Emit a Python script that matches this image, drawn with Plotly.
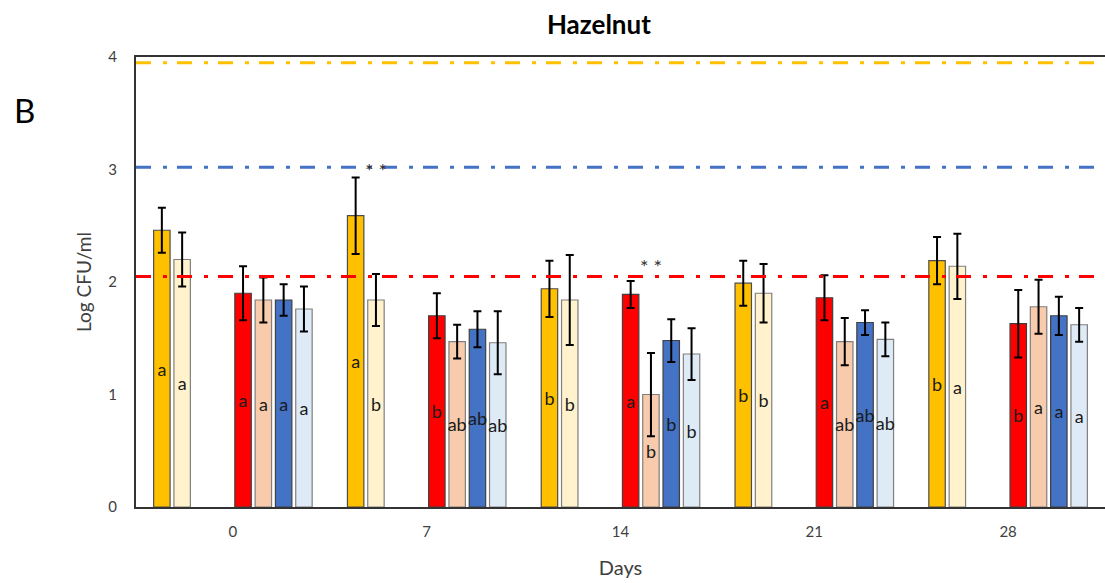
import plotly.graph_objects as go

# Sampling days (x categories)
days = ["0", "7", "14", "21", "28"]

# Mean counts (Log CFU/ml) per series
yellow_vals = [2.46, 2.59, 1.94, 1.99, 2.19]
lightyellow_vals = [2.20, 1.84, 1.84, 1.90, 2.14]
red_vals = [1.90, 1.70, 1.89, 1.86, 1.63]
peach_vals = [1.84, 1.47, 1.00, 1.47, 1.78]
blue_vals = [1.84, 1.58, 1.48, 1.64, 1.70]
lightblue_vals = [1.76, 1.46, 1.36, 1.49, 1.62]

# Standard deviations
yellow_err = [0.20, 0.34, 0.25, 0.20, 0.21]
lightyellow_err = [0.24, 0.23, 0.40, 0.26, 0.29]
red_err = [0.24, 0.20, 0.12, 0.20, 0.30]
peach_err = [0.20, 0.15, 0.37, 0.21, 0.24]
blue_err = [0.14, 0.16, 0.19, 0.11, 0.17]
lightblue_err = [0.20, 0.28, 0.23, 0.15, 0.15]

# Significance letters
yellow_lbl = ["a", "a", "b", "b", "b"]
lightyellow_lbl = ["a", "b", "b", "b", "a"]
red_lbl = ["a", "b", "a", "a", "b"]
peach_lbl = ["a", "ab", "b", "ab", "a"]
blue_lbl = ["a", "ab", "b", "ab", "a"]
lightblue_lbl = ["a", "ab", "b", "ab", "a"]

# Reference levels (dash-dot lines)
ref_yellow = 3.95
ref_blue = 3.02
ref_red = 2.05

# Significance markers: (day index, slot index, y)
stars = [(1, 1, 3.0), (2, 5, 2.14)]

FONT = "Lato, Carlito, Calibri, sans-serif"
N_SLOTS = 8
BARGAP = 0.162

series = [
    (yellow_vals, yellow_err, yellow_lbl, "#FFC000", "#4d4d4d"),
    (lightyellow_vals, lightyellow_err, lightyellow_lbl, "#FFF2CC", "#7f7f7f"),
    None,
    None,
    (red_vals, red_err, red_lbl, "#FF0000", "#404040"),
    (peach_vals, peach_err, peach_lbl, "#F8CBAD", "#7f7f7f"),
    (blue_vals, blue_err, blue_lbl, "#4472C4", "#404040"),
    (lightblue_vals, lightblue_err, lightblue_lbl, "#DEEBF7", "#7f7f7f"),
]

fig = go.Figure()
for s in series:
    if s is None:
        # empty slot keeps the spacing between the two bar clusters
        fig.add_trace(go.Bar(x=days, y=[None] * len(days), showlegend=False,
                             hoverinfo="skip"))
        continue
    vals, err, lbl, fill, edge = s
    fig.add_trace(go.Bar(
        x=days, y=vals, text=lbl,
        textposition="inside", insidetextanchor="middle", textangle=0,
        textfont=dict(family=FONT, size=18, color="#1a1a1a"),
        marker=dict(color=fill, line=dict(color=edge, width=1.2)),
        error_y=dict(type="data", array=err, visible=True,
                     color="#000000", thickness=2, width=4),
        showlegend=False,
    ))

dash = "15px,12px,4px,10px"
for val, col in [(ref_yellow, "#FFC000"), (ref_blue, "#4472C4"), (ref_red, "#FF0000")]:
    fig.add_shape(type="line", xref="paper", yref="y", x0=0, x1=1, y0=val, y1=val,
                  line=dict(color=col, width=3, dash=dash), layer="above")

slot_w = (1 - BARGAP) / N_SLOTS
for day_i, slot_i, yv in stars:
    xpos = day_i - (1 - BARGAP) / 2 + (slot_i + 0.5) * slot_w
    fig.add_annotation(x=xpos, y=yv, xref="x", yref="y", text="* *", showarrow=False,
                       font=dict(family=FONT, size=20, color="#333333"))

fig.add_annotation(x=-0.128, y=0.882, xref="paper", yref="paper", text="B",
                   showarrow=False, font=dict(family=FONT, size=33, color="#000000"),
                   xanchor="left", yanchor="middle")

fig.update_layout(
    width=1105, height=583,
    margin=dict(l=136, r=0, t=57, b=76),
    paper_bgcolor="white", plot_bgcolor="white",
    barmode="group", bargap=BARGAP, bargroupgap=0.19,
    uniformtext=dict(mode="show", minsize=18),
    title=dict(text="<b>Hazelnut</b>", x=0.542, xanchor="center", y=0.957, yanchor="middle",
               font=dict(family=FONT, size=26, color="#000000")),
    font=dict(family=FONT, color="#404040"),
)
fig.update_xaxes(
    type="category", showline=True, linecolor="#333333", linewidth=2, mirror=True,
    ticks="", showgrid=False, ticklabelstandoff=10,
    tickfont=dict(family=FONT, size=15, color="#404040"),
    title=dict(text="Days", font=dict(family=FONT, size=20, color="#404040"), standoff=22),
)
fig.update_yaxes(
    range=[0, 4], dtick=1, showline=True, linecolor="#333333", linewidth=2,
    ticks="", showgrid=False, zeroline=False, ticklabelstandoff=14,
    tickfont=dict(family=FONT, size=15, color="#404040"),
    title=dict(text="Log CFU/ml", font=dict(family=FONT, size=19, color="#404040"), standoff=12),
)

fig.write_html("out.html")
